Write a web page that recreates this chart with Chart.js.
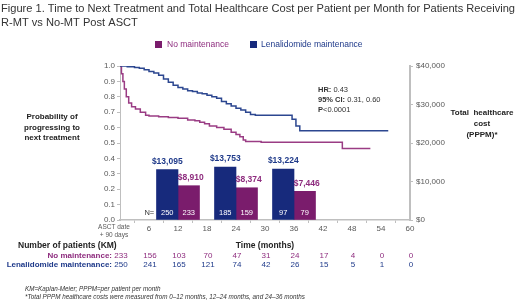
<!DOCTYPE html>
<html>
<head>
<meta charset="utf-8">
<script src="https://cdn.jsdelivr.net/npm/chart.js@4.4.1/dist/chart.umd.min.js"></script>
<style>
  html, body { margin: 0; padding: 0; background: #fff; }
  #wrap { width: 520px; height: 303px; position: relative; }
</style>
</head>
<body>
<div id="wrap"><canvas id="chart" width="520" height="303"></canvas></div>
<script>
// --- DATOS ---
// Kaplan-Meier, lenalidomida
const kmMonthsLen = [0, 1.5, 3, 4, 5, 6, 7, 8, 9, 10, 11, 12, 13, 14, 15, 16, 17, 18, 19, 20, 21, 22, 23, 24, 25, 26, 27, 28, 35.6, 36.4, 37.2, 55.5];
const kmProbLen   = [1.0, 0.995, 0.99, 0.985, 0.975, 0.965, 0.955, 0.94, 0.915, 0.895, 0.875, 0.86, 0.85, 0.84, 0.835, 0.825, 0.82, 0.81, 0.80, 0.79, 0.77, 0.755, 0.74, 0.725, 0.715, 0.70, 0.685, 0.68, 0.655, 0.61, 0.58, 0.58];
// Kaplan-Meier, sin mantenimiento
const kmMonthsNoMt = [0, 0.3, 0.6, 0.9, 1.3, 1.8, 2.4, 3.2, 4.2, 5.3, 6, 8, 10, 12, 14, 15.5, 16.5, 17.5, 18.5, 20, 21.5, 23, 24, 24.8, 25.5, 26, 29.2, 46, 51.8];
const kmProbNoMt   = [1.0, 0.95, 0.9, 0.85, 0.80, 0.76, 0.735, 0.72, 0.70, 0.68, 0.675, 0.67, 0.665, 0.66, 0.65, 0.645, 0.635, 0.625, 0.61, 0.60, 0.59, 0.57, 0.555, 0.54, 0.52, 0.51, 0.505, 0.465, 0.465];

// Coste PPPM por intervalo
const costMonths = [12, 24, 36];
const costLen = [13095, 13753, 13224];
const costNoMt = [8910, 8374, 7446];
const nLen = [250, 185, 97];
const nNoMt = [233, 159, 79];

// Pacientes en riesgo
const atRiskMonths = [0, 6, 12, 18, 24, 30, 36, 42, 48, 54, 60];
const atRiskNoMt = [233, 156, 103, 70, 47, 31, 24, 17, 4, 0, 0];
const atRiskLen  = [250, 241, 165, 121, 74, 42, 26, 15, 5, 1, 0];

const titleLines = [
    'Figure 1. Time to Next Treatment and Total Healthcare Cost per Patient per Month for Patients Receiving',
    'R-MT vs No-MT Post ASCT'
];

// --- COLORES ---
const NAVY = '#172a7c';
const NAVY_TXT = '#1f3a8a';
const PURPLE = '#7a1c6c';
const PURPLE_TXT = '#8e2c7e';
const LINE_BLUE = '#2c4790';
const LINE_PURPLE = '#9a3c84';
const AXIS = '#bfbfbf';
const TICK_TXT = '#595959';
const FONT = 'Liberation Sans, Arial, sans-serif';

const toXY = (xs, ys) => xs.map((x, i) => ({ x: x, y: ys[i] }));

// Texto con varios estilos en una línea
function richText(ctx, parts, x, y) {
    let cx = x;
    parts.forEach(p => {
        ctx.font = p.font;
        ctx.fillStyle = p.color;
        ctx.fillText(p.text, cx, y);
        cx += ctx.measureText(p.text).width;
    });
}

const annotations = {
    id: 'annotations',
    afterDraw(chart) {
        const ctx = chart.ctx;
        const xs = chart.scales.x;
        const ys = chart.scales.y;
        ctx.save();
        ctx.textBaseline = 'middle';

        // Título
        ctx.font = '11.1px ' + FONT;
        ctx.fillStyle = '#333';
        ctx.textAlign = 'left';
        ctx.fillText(titleLines[0], 1, 9);
        ctx.fillText(titleLines[1], 1, 23);

        // Leyenda
        ctx.font = '8.5px ' + FONT;
        ctx.fillStyle = PURPLE;
        ctx.fillRect(155, 41, 7, 7);
        ctx.fillStyle = PURPLE_TXT;
        ctx.fillText('No maintenance', 167, 45);
        ctx.fillStyle = NAVY;
        ctx.fillRect(250, 41, 7, 7);
        ctx.fillStyle = NAVY_TXT;
        ctx.fillText('Lenalidomide maintenance', 261, 45);

        // Etiquetas de los ejes
        ctx.font = 'bold 8px ' + FONT;
        ctx.fillStyle = '#222';
        ctx.textAlign = 'center';
        ['Probability of', 'progressing to', 'next treatment'].forEach((t, i) => ctx.fillText(t, 52, 117 + i * 10.5));
        ['Total  healthcare', 'cost', '(PPPM)*'].forEach((t, i) => ctx.fillText(t, 482, 113 + i * 11));

        // HR
        ctx.textAlign = 'left';
        const fb = 'bold 7.5px ' + FONT, fr = '7.5px ' + FONT;
        richText(ctx, [{ text: 'HR:', font: fb, color: '#333' }, { text: ' 0.43', font: fr, color: '#333' }], 318, 90);
        richText(ctx, [{ text: '95% CI:', font: fb, color: '#333' }, { text: ' 0.31, 0.60', font: fr, color: '#333' }], 318, 100);
        richText(ctx, [{ text: 'P', font: fb, color: '#333' }, { text: '<0.0001', font: fr, color: '#333' }], 318, 110);

        // Etiquetas de las barras
        const metaLen = chart.getDatasetMeta(2);
        const metaNo = chart.getDatasetMeta(3);
        ctx.textAlign = 'center';
        ctx.font = 'bold 8.5px ' + FONT;
        metaLen.data.forEach((bar, i) => {
            ctx.fillStyle = NAVY_TXT;
            ctx.fillText('$' + costLen[i].toLocaleString('en-US'), bar.x, bar.y - 8);
        });
        metaNo.data.forEach((bar, i) => {
            ctx.fillStyle = PURPLE_TXT;
            ctx.fillText('$' + costNoMt[i].toLocaleString('en-US'), bar.x + 2, bar.y - 8);
        });
        const yN = ys.getPixelForValue(0) - 7;
        ctx.font = '7.5px ' + FONT;
        ctx.fillStyle = '#fff';
        metaLen.data.forEach((bar, i) => ctx.fillText(String(nLen[i]), bar.x, yN));
        metaNo.data.forEach((bar, i) => ctx.fillText(String(nNoMt[i]), bar.x, yN));
        ctx.fillStyle = '#333';
        ctx.textAlign = 'right';
        ctx.fillText('N=', metaLen.data[0].x - 13, yN);

        // Etiqueta del tiempo 0
        ctx.textAlign = 'center';
        ctx.font = '6.5px ' + FONT;
        ctx.fillStyle = TICK_TXT;
        const x0 = xs.getPixelForValue(0);
        ctx.fillText('ASCT date', x0 - 6, 227);
        ctx.fillText('+ 90 days', x0 - 6, 235);

        // Tabla de pacientes en riesgo
        ctx.font = 'bold 8.5px ' + FONT;
        ctx.fillStyle = '#222';
        ctx.textAlign = 'left';
        ctx.fillText('Number of patients (KM)', 18, 246);
        ctx.textAlign = 'center';
        ctx.fillText('Time (months)', xs.getPixelForValue(30), 246);

        ctx.textAlign = 'right';
        ctx.font = 'bold 8px ' + FONT;
        ctx.fillStyle = PURPLE_TXT;
        ctx.fillText('No maintenance:', 112, 256);
        ctx.fillStyle = NAVY_TXT;
        ctx.fillText('Lenalidomide maintenance:', 112, 265);

        ctx.textAlign = 'center';
        ctx.font = '8px ' + FONT;
        atRiskMonths.forEach((m, i) => {
            const px = xs.getPixelForValue(m) + 1;
            ctx.fillStyle = PURPLE_TXT;
            ctx.fillText(String(atRiskNoMt[i]), px, 256);
            ctx.fillStyle = NAVY_TXT;
            ctx.fillText(String(atRiskLen[i]), px, 265);
        });

        // Notas al pie
        ctx.textAlign = 'left';
        ctx.font = 'italic 6.3px ' + FONT;
        ctx.fillStyle = '#333';
        ctx.fillText('KM=Kaplan-Meier; PPPM=per patient per month', 25, 289);
        ctx.fillText('*Total PPPM healthcare costs were measured from 0\u201312 months, 12\u201324 months, and 24\u201336 months', 25, 297);

        ctx.restore();
    }
};

const ctx = document.getElementById('chart').getContext('2d');
new Chart(ctx, {
    type: 'line',
    data: {
        datasets: [
            {
                label: 'Lenalidomide maintenance KM',
                data: toXY(kmMonthsLen, kmProbLen),
                borderColor: LINE_BLUE,
                borderWidth: 1.5,
                stepped: true,
                pointRadius: 0,
                yAxisID: 'y'
            },
            {
                label: 'No maintenance KM',
                data: toXY(kmMonthsNoMt, kmProbNoMt),
                borderColor: LINE_PURPLE,
                borderWidth: 1.5,
                stepped: true,
                pointRadius: 0,
                yAxisID: 'y'
            },
            {
                type: 'bar',
                label: 'Lenalidomide maintenance',
                data: toXY(costMonths, costLen),
                backgroundColor: NAVY,
                barThickness: 21.5,
                yAxisID: 'y2'
            },
            {
                type: 'bar',
                label: 'No maintenance',
                data: toXY(costMonths, costNoMt),
                backgroundColor: PURPLE,
                barThickness: 21.5,
                yAxisID: 'y2'
            }
        ]
    },
    options: {
        responsive: false,
        animation: false,
        layout: { padding: { left: 98, right: 70, top: 66, bottom: 69 } },
        plugins: { legend: { display: false }, tooltip: { enabled: false } },
        scales: {
            x: {
                type: 'linear',
                min: 0, max: 60,
                offset: false,
                afterFit: (s) => { s.height = 14; },
                grid: { drawOnChartArea: false, drawTicks: true, tickLength: 3, color: AXIS },
                border: { color: AXIS, width: 1.5 },
                ticks: {
                    stepSize: 6,
                    padding: 1,
                    maxRotation: 0,
                    color: TICK_TXT,
                    font: { family: FONT, size: 8 },
                    callback: (v) => v === 0 ? '' : v
                }
            },
            y: {
                position: 'left',
                min: 0, max: 1,
                afterFit: (s) => { s.width = 22; },
                grid: { drawOnChartArea: false, drawTicks: true, tickLength: 3, color: AXIS },
                border: { color: AXIS, width: 1 },
                ticks: {
                    stepSize: 0.1,
                    padding: 2,
                    color: TICK_TXT,
                    font: { family: FONT, size: 8 },
                    callback: (v) => v.toFixed(1)
                }
            },
            y2: {
                position: 'right',
                min: 0, max: 40000,
                afterFit: (s) => { s.width = 40; },
                grid: { drawOnChartArea: false, drawTicks: true, tickLength: 3, color: AXIS },
                border: { color: AXIS, width: 2 },
                ticks: {
                    stepSize: 10000,
                    padding: 3,
                    color: TICK_TXT,
                    font: { family: FONT, size: 8 },
                    callback: (v) => '$' + v.toLocaleString('en-US')
                }
            }
        }
    },
    plugins: [annotations]
});
</script>
</body>
</html>
